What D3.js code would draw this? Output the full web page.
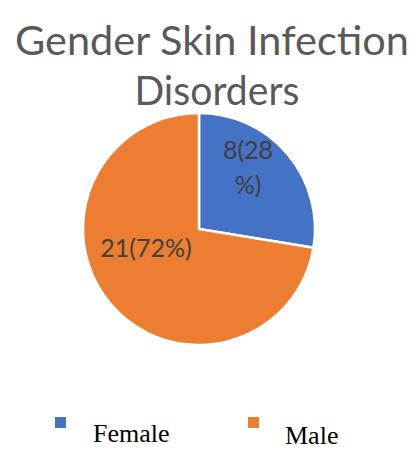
<!DOCTYPE html>
<html><head><meta charset="utf-8">
<script src="https://cdn.jsdelivr.net/npm/d3@7"></script>
<style>body{margin:0;background:#fff}</style>
</head><body>
<script>
const categories = ["Female", "Male"];
const values = [8, 21];
const labels = ["8(28\n%)", "21(72%)"];
const colors = ["#4472C4", "#ED7D31"];
const titleLines = ["Gender Skin Infection", "Disorders"];

const W = 419, H = 450;
const svg = d3.select("body").append("svg").attr("width", W).attr("height", H);

svg.selectAll("text.title").data(titleLines).enter().append("text")
  .attr("x", (d, i) => i === 0 ? 212 : 217).attr("y", (d, i) => 55 + i * 50)
  .attr("text-anchor", "middle")
  .attr("font-family", "Lato, 'Open Sans', sans-serif")
  .attr("font-size", 41).attr("fill", "#595959")
  .attr("textLength", (d, i) => i === 0 ? 394 : 165)
  .attr("lengthAdjust", "spacingAndGlyphs")
  .text(d => d);

const cx = 199, cy = 229, r = 116;
const pie = d3.pie().sort(null).value(d => d);
const arcs = pie(values);
const arc = d3.arc().innerRadius(0).outerRadius(r);
const g = svg.append("g").attr("transform", `translate(${cx},${cy})`);
g.selectAll("path").data(arcs).enter().append("path")
  .attr("d", arc).attr("fill", (d, i) => colors[i])
  .attr("stroke", "#fff").attr("stroke-width", 2.5).attr("stroke-linejoin", "round");

const labelPos = [[49, -79], [-53, 19]];
arcs.forEach((a, i) => {
  const lines = labels[i].split("\n");
  const t = g.append("text").attr("text-anchor", "middle")
    .attr("font-family", "Lato, 'Open Sans', sans-serif")
    .attr("font-size", 25).attr("fill", "#404040");
  lines.forEach((ln, j) => {
    t.append("tspan").attr("x", labelPos[i][0]).attr("y", labelPos[i][1] + j * 35).attr("dy", "0.35em").text(ln);
  });
});

const legX = [55, 248], legTX = [93, 285], legTY = [442, 444];
categories.forEach((c, i) => {
  svg.append("rect").attr("x", legX[i]).attr("y", 417).attr("width", 11).attr("height", 11).attr("fill", colors[i]);
  svg.append("text").attr("x", legTX[i]).attr("y", legTY[i])
    .attr("font-family", "'Liberation Serif', 'DejaVu Serif', serif")
    .attr("font-size", 26).attr("fill", "#000").text(c);
});
</script>
</body></html>
